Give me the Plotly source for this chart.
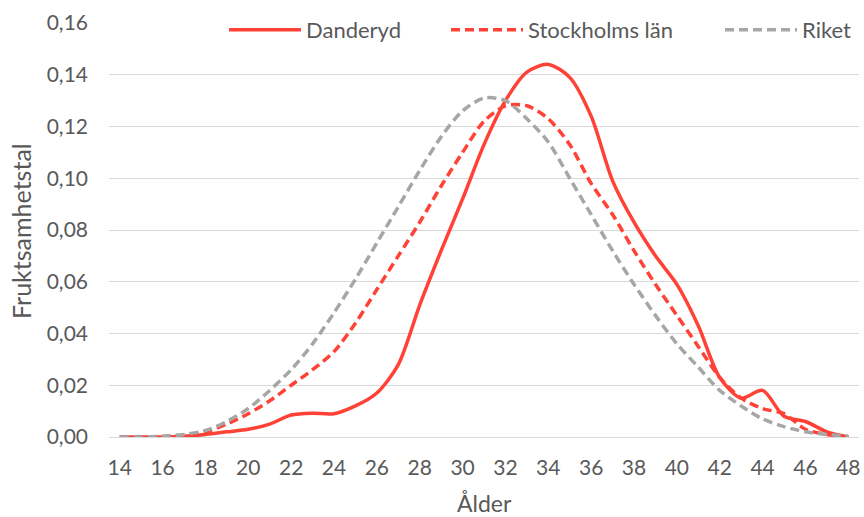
import plotly.graph_objects as go

ages = list(range(14, 49))
danderyd = [0.0, 0.0, 0.0, 0.0003, 0.001, 0.002, 0.003, 0.005, 0.0085, 0.0092, 0.009,
            0.012, 0.017, 0.028, 0.051, 0.072, 0.092, 0.113, 0.130, 0.141, 0.144,
            0.139, 0.124, 0.099, 0.083, 0.070, 0.059, 0.043, 0.023, 0.015, 0.018,
            0.008, 0.006, 0.002, 0.0]
stockholm = [0.0, 0.0, 0.0002, 0.0007, 0.002, 0.005, 0.009, 0.014, 0.020, 0.026, 0.033,
             0.044, 0.057, 0.070, 0.083, 0.097, 0.110, 0.122, 0.128, 0.128, 0.123,
             0.113, 0.098, 0.086, 0.072, 0.059, 0.047, 0.035, 0.023, 0.015, 0.011,
             0.009, 0.003, 0.001, 0.0]
riket = [0.0, 0.0, 0.0003, 0.001, 0.0025, 0.006, 0.011, 0.018, 0.026, 0.036, 0.048,
         0.061, 0.075, 0.089, 0.103, 0.116, 0.126, 0.131, 0.130, 0.123, 0.114,
         0.100, 0.086, 0.072, 0.059, 0.047, 0.036, 0.027, 0.018, 0.012, 0.007,
         0.004, 0.002, 0.001, 0.0003]
xticks = list(range(14, 49, 2))

RED = "#FF4136"
GRAY = "#A6A6A6"
TXT = "#595959"
FONT = "Lato"

fig = go.Figure()
fig.add_trace(go.Scatter(x=ages, y=danderyd, name="Danderyd", mode="lines", legend="legend",
                         line=dict(color=RED, width=3.5, shape="spline", smoothing=0.8)))
fig.add_trace(go.Scatter(x=ages, y=stockholm, name="Stockholms län", mode="lines", legend="legend2",
                         line=dict(color=RED, width=3.5, shape="spline", smoothing=0.8, dash="9px,5px")))
fig.add_trace(go.Scatter(x=ages, y=riket, name="Riket", mode="lines", legend="legend3",
                         line=dict(color=GRAY, width=3.5, shape="spline", smoothing=0.8, dash="9px,5px")))

def leg(xpx):
    return dict(orientation="h", x=(xpx - 109) / 750, xanchor="left",
                y=(437 - 30) / 414, yanchor="middle",
                bgcolor="rgba(255,255,255,0)", font=dict(family=FONT, size=22, color=TXT),
                itemwidth=72)

fig.update_layout(
    width=864, height=517,
    margin=dict(l=109, r=5, t=23, b=80, autoexpand=False),
    paper_bgcolor="white", plot_bgcolor="white",
    separators=", ",
    font=dict(family=FONT, size=21, color=TXT),
    showlegend=True,
    legend=leg(224), legend2=leg(446), legend3=leg(720),
    annotations=[
        dict(text="Ålder", xref="paper", yref="paper", x=0.5, y=(437 - 503) / 414,
             xanchor="center", yanchor="middle", showarrow=False,
             font=dict(family=FONT, size=23, color=TXT)),
        dict(text="Fruktsamhetstal", xref="paper", yref="paper", x=(21 - 109) / 750, y=(437 - 231) / 414,
             xanchor="center", yanchor="middle", showarrow=False, textangle=-90,
             font=dict(family=FONT, size=25, color=TXT)),
    ],
)
fig.update_xaxes(range=[13.5, 48.5], tickvals=xticks, showgrid=False, zeroline=False,
                 showline=True, linecolor="#D9D9D9", linewidth=1, ticks="", automargin=False,
                 ticklabelstandoff=12, tickfont=dict(size=21, color=TXT))
fig.update_yaxes(range=[0, 0.16], dtick=0.02, tickformat=".2f", showgrid=True,
                 gridcolor="#D9D9D9", gridwidth=1, zeroline=False, ticks="", automargin=False,
                 ticklabelstandoff=20, tickfont=dict(size=21, color=TXT))

fig.write_html("out.html", config={"displayModeBar": False},
               post_script="document.body.style.margin='0';document.body.style.padding='0';")
